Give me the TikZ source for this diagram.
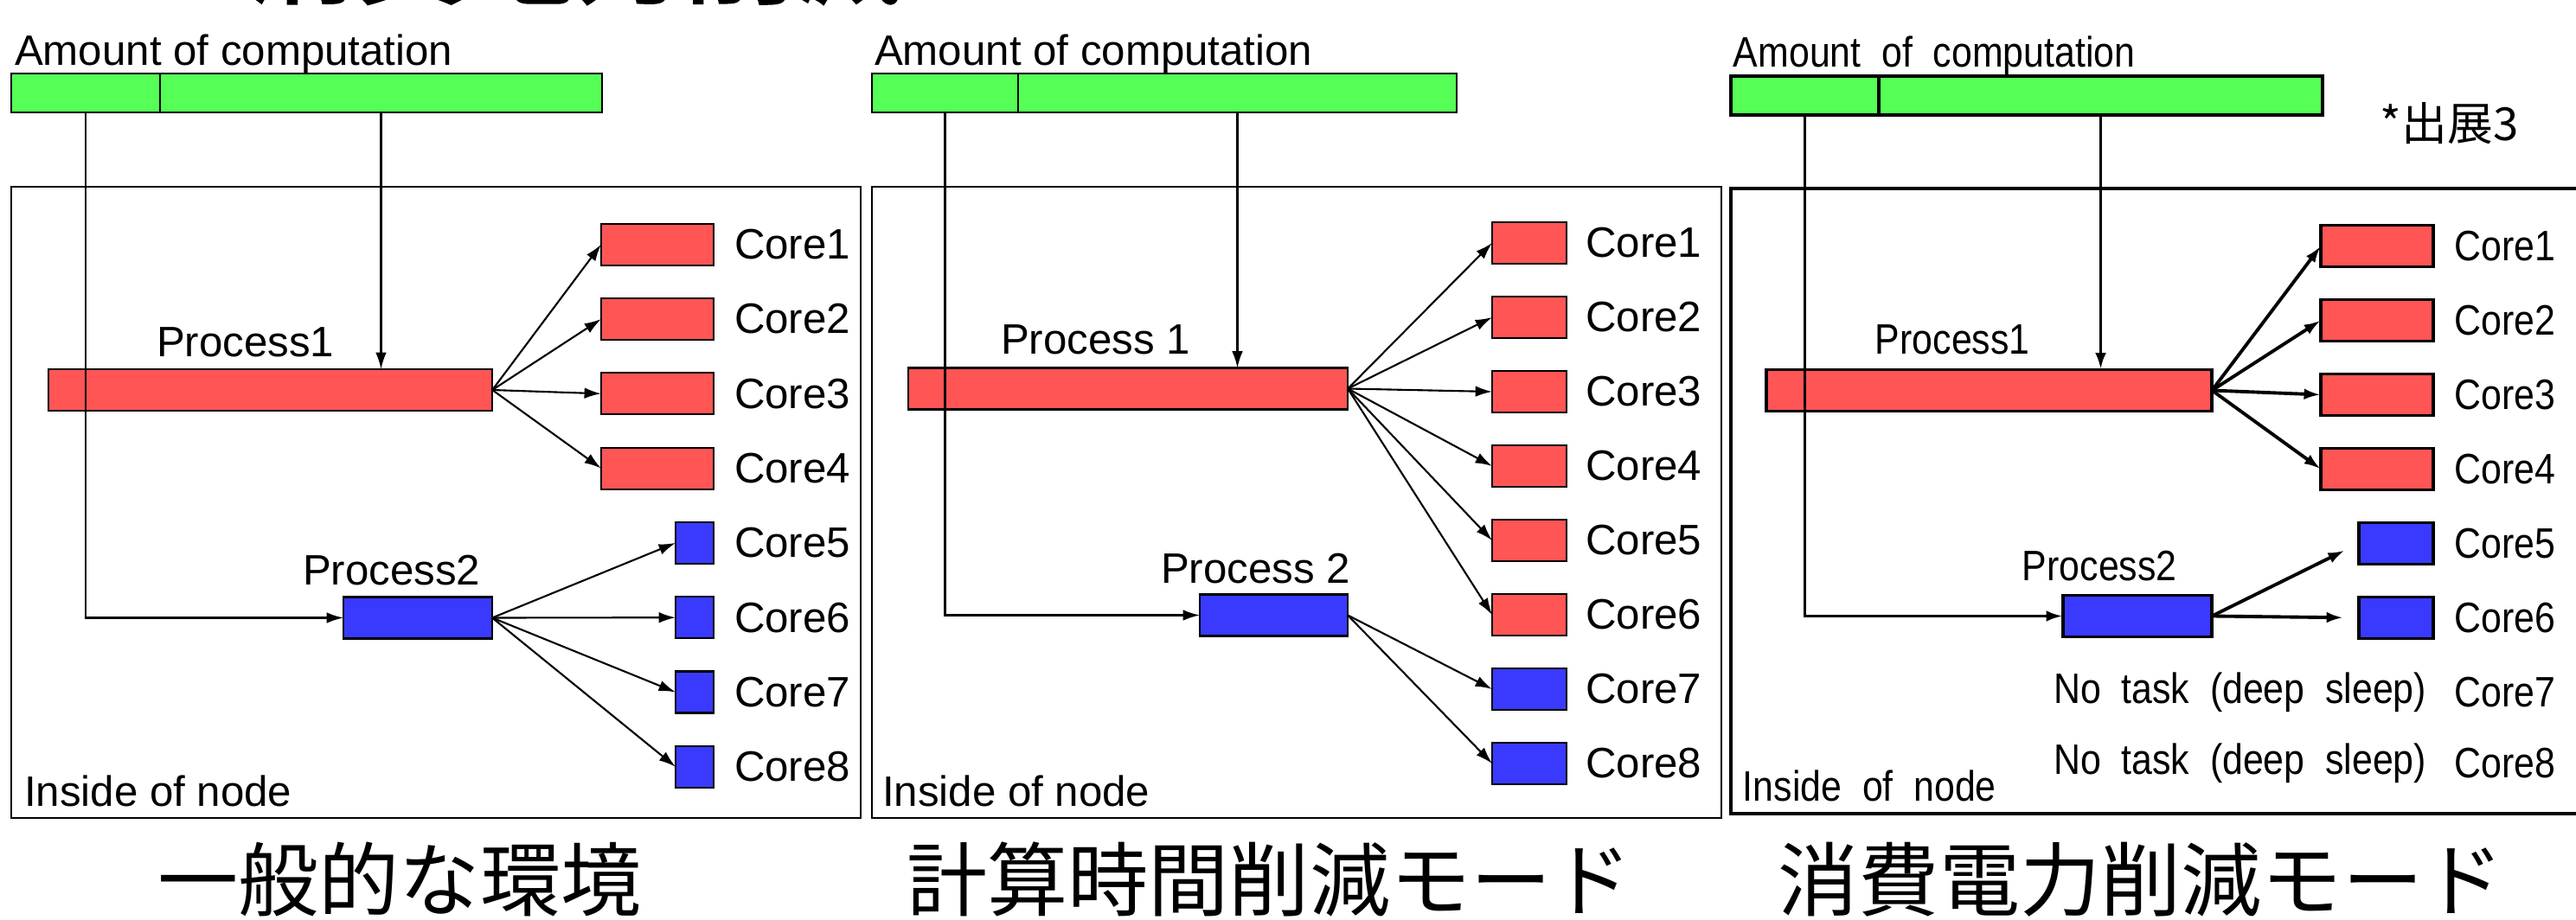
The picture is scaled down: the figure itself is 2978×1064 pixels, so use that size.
\documentclass[tikz,border=0pt]{standalone}
\usepackage{fontspec}
\setmainfont{Liberation Sans}
\newfontfamily\jpfont{Noto Sans CJK JP}
\newfontfamily\jpheavy[FakeBold=2.5]{Noto Sans CJK JP}
\newfontfamily\narrowfont[FakeStretch=0.87]{Liberation Sans}
\usetikzlibrary{arrows.meta,positioning}

\definecolor{corered}{RGB}{255,85,85}
\definecolor{coreblue}{RGB}{58,58,255}
\definecolor{amtgreen}{RGB}{85,255,85}

\tikzset{
    bar/.style={draw, inner sep=0pt, outer sep=0pt, minimum height=0.45cm},
    greenbar/.style={bar, fill=amtgreen},
    corebox/.style={bar, minimum height=0.48cm},
    txt/.style={inner sep=0pt, font=\fontsize{14pt}{16pt}\selectfont},
    ntxt/.style={inner sep=0pt, font=\fontsize{14pt}{16pt}\narrowfont},
    jtitle/.style={inner sep=0pt, font=\fontsize{26.5pt}{30pt}\jpfont},
    nodeframe/.style={draw, line width=0.75pt}
}

\begin{document}
\begin{tikzpicture}[x=0.01cm,y=-0.01cm,>={Latex[length=5.5pt,width=3.6pt]},line width=0.6pt]
    \useasboundingbox (0,0) rectangle (2978,1064);
    \clip (0,0) rectangle (2978,1064);

    \node[inner sep=0pt, font=\fontsize{36pt}{40pt}\jpheavy, anchor=base] (head) at (665,-6) {消費電力削減};

    % general environment
    \node[txt, anchor=base west] (amt1) at (16,76) {Amount of computation};
    \node[greenbar, minimum width=1.72cm] (amtL1) at (99,107.5) {};
    \node[greenbar, minimum width=5.11cm] (amtR1) at (440.5,107.5) {};
    \draw[nodeframe] (13,216) rectangle (995,946);
    \node[corebox, fill=corered, minimum width=5.13cm] (procA1) at (312.5,451) {};
    \node[txt, anchor=base west] (procA1lbl) at (180,413) {Process1};
    \node[corebox, fill=coreblue, minimum width=1.72cm] (procB1) at (483,714.5) {};
    \node[txt, anchor=base west] (procB1lbl) at (349,676) {Process2};
    \foreach \i/\col/\w in {1/corered/1.30,2/corered/1.30,3/corered/1.30,4/corered/1.30,
                            5/coreblue/0.44,6/coreblue/0.44,7/coreblue/0.44,8/coreblue/0.44} {
        \node[corebox, fill=\col, minimum width=\w cm, anchor=east] (c1-\i) at (825,{282.7+86.3*(\i-1)}) {};
        \node[txt, right=0.23cm of c1-\i] {Core\i};
    }
    \foreach \i in {1,...,4} \draw[->] (procA1.east) -- (c1-\i.west);
    \foreach \i in {5,...,8} \draw[->] (procB1.east) -- (c1-\i.west);
    \draw[->] (amtL1.south) |- (procB1.west);
    \draw[->] (amtR1.south) -- (amtR1.south |- procA1.north);
    \node[txt, anchor=base west] (in1) at (27,932) {Inside of node};
    \node[jtitle, anchor=base] (title1) at (462,1052) {一般的な環境};

    % computation time reduction mode
    \node[txt, anchor=base west] (amt2) at (1010,76) {Amount of computation};
    \node[greenbar, minimum width=1.69cm] (amtL2) at (1092.5,107.5) {};
    \node[greenbar, minimum width=5.07cm] (amtR2) at (1430.5,107.5) {};
    \draw[nodeframe] (1008,216) rectangle (1990,946);
    \node[corebox, fill=corered, minimum width=5.08cm] (procA2) at (1304,449.5) {};
    \node[txt, anchor=base west] (procA2lbl) at (1156,410) {Process 1};
    \node[corebox, fill=coreblue, minimum width=1.71cm] (procB2) at (1472.5,711.5) {};
    \node[txt, anchor=base west] (procB2lbl) at (1341,674) {Process 2};
    \foreach \i/\col in {1/corered,2/corered,3/corered,4/corered,5/corered,6/corered,7/coreblue,8/coreblue} {
        \node[corebox, fill=\col, minimum width=0.86cm] (c2-\i) at (1768,{281+86*(\i-1)}) {};
        \node[txt, right=0.21cm of c2-\i] {Core\i};
    }
    \foreach \i in {1,...,6} \draw[->] (procA2.east) -- (c2-\i.west);
    \foreach \i in {7,8} \draw[->] (procB2.east) -- (c2-\i.west);
    \draw[->] (amtL2.south) |- (procB2.west);
    \draw[->] (amtR2.south) -- (amtR2.south |- procA2.north);
    \node[txt, anchor=base west] (in2) at (1019,932) {Inside of node};
    \node[jtitle, anchor=base] (title2) at (1467.5,1052) {計算時間削減モード};

    % power reduction mode
    \begin{scope}[line width=1.1pt]
    \node[ntxt, anchor=base west] (amt3) at (2002,78) {Amount\ \ of\ \ computation};
    \node[greenbar, minimum width=1.71cm] (amtL3) at (2086.5,110.5) {};
    \node[greenbar, minimum width=5.13cm] (amtR3) at (2428.5,110.5) {};
    \node[inner sep=0pt, font=\fontsize{15pt}{17pt}\jpfont, anchor=base west] (src) at (2750,163) {*出展3};
    \draw[nodeframe, line width=1.2pt] (2001,218) rectangle (2995,941);
    \node[corebox, fill=corered, minimum width=5.15cm] (procA3) at (2299.5,451.5) {};
    \node[ntxt, anchor=base west] (procA3lbl) at (2166,410) {Process1};
    \node[corebox, fill=coreblue, minimum width=1.72cm] (procB3) at (2471,712.5) {};
    \node[ntxt, anchor=base west] (procB3lbl) at (2336,672) {Process2};
    \foreach \i/\col/\w in {1/corered/1.30,2/corered/1.30,3/corered/1.30,4/corered/1.30,
                            5/coreblue/0.86,6/coreblue/0.86} {
        \node[corebox, fill=\col, minimum width=\w cm, anchor=east] (c3-\i) at (2813,{284.5+86*(\i-1)}) {};
        \node[ntxt, right=0.23cm of c3-\i] {Core\i};
    }
    \node[ntxt, anchor=west] (c3-7) at (2836,800.5) {Core7};
    \node[ntxt, anchor=west] (c3-8) at (2836,883) {Core8};
    \node[ntxt, left=0.29cm of c3-7] (idle7) {No\ \ task\ \ (deep\ \ sleep)};
    \node[ntxt, left=0.29cm of c3-8] (idle8) {No\ \ task\ \ (deep\ \ sleep)};
    \foreach \i in {1,...,4} \draw[->] (procA3.east) -- (c3-\i.west);
    \foreach \i in {5,6} \draw[->, shorten >=0.18cm] (procB3.east) -- (c3-\i.west);
    \draw[->] (amtL3.south) |- (procB3.west);
    \draw[->] (amtR3.south) -- (amtR3.south |- procA3.north);
    \node[ntxt, anchor=base west] (in3) at (2013,926) {Inside\ \ of\ \ node};
    \end{scope}
    \node[jtitle, anchor=base] (title3) at (2475,1052) {消費電力削減モード};
\end{tikzpicture}
\end{document}
